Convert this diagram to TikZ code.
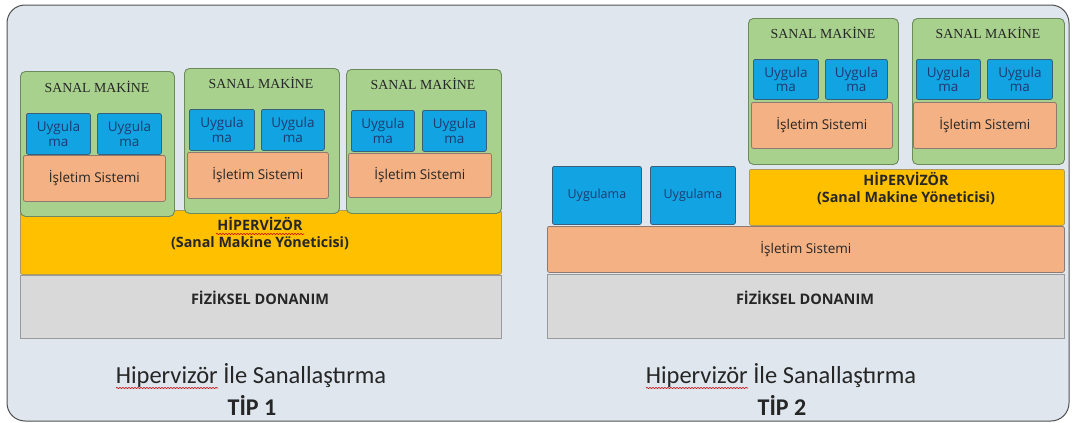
\documentclass[tikz,border=0pt]{standalone}
\usepackage{fontspec}
\setmainfont{Open Sans}
\newfontfamily\serifF{Liberation Serif}
\newfontfamily\calF{Carlito}
\usetikzlibrary{decorations.pathmorphing}
\definecolor{bgc}{HTML}{DFE6EE}
\definecolor{framec}{HTML}{505050}
\definecolor{vmfill}{HTML}{A9D18E}
\definecolor{vmdraw}{HTML}{6C8A5C}
\definecolor{appfill}{HTML}{12A3E3}
\definecolor{appdraw}{HTML}{3A5F78}
\definecolor{apptext}{HTML}{1D3B6E}
\definecolor{osfill}{HTML}{F4B183}
\definecolor{osdraw}{HTML}{8E7A70}
\definecolor{hvfill}{HTML}{FFC000}
\definecolor{hvdraw}{HTML}{B09A5A}
\definecolor{hwfill}{HTML}{D9D9D9}
\definecolor{hwdraw}{HTML}{9A9A9A}
\definecolor{txt}{HTML}{262626}
\newcommand\blk[7]{\node[#2,anchor=north west,inner sep=0pt,minimum width={(#5-#3)*1pt},minimum height={(#6-#4)*1pt}] (#1) at (#3,#4) {#7};}
\tikzset{
  vmbox/.style={draw=vmdraw,fill=vmfill,line width=0.9pt,rounded corners=5pt},
  appbox/.style={draw=appdraw,fill=appfill,line width=0.8pt,rounded corners=2pt,align=center,text=apptext,font=\fontsize{13.5}{14.5}\selectfont},
  appwide/.style={appbox,font=\fontsize{12.5}{14}\selectfont},
  osbox/.style={draw=osdraw,fill=osfill,line width=0.8pt,rounded corners=2pt,text=txt,font=\fontsize{13.5}{15}\selectfont},
  hvbox/.style={draw=hvdraw,fill=hvfill,line width=0.8pt,rounded corners=2pt},
  hwbox/.style={draw=hwdraw,fill=hwfill,line width=0.8pt},
  vmtitle/.style={font=\serifF\fontsize{13.8}{15}\selectfont,text=txt,inner sep=0pt},
  hvtext/.style={font=\bfseries\fontsize{14.3}{17}\selectfont,text=txt,align=center,inner sep=0pt},
  hwtext/.style={font=\bfseries\fontsize{14.5}{16}\selectfont,text=txt,inner sep=0pt},
  captext/.style={font=\calF\fontsize{24.5}{26}\selectfont,text=txt,inner sep=0pt},
  tiptext/.style={font=\calF\bfseries\fontsize{24}{26}\selectfont,text=txt,inner sep=0pt},
  squig/.style={red!80!black,line width=0.6pt,decorate,decoration={snake,amplitude=0.6pt,segment length=3pt}}
}
\begin{document}
\begin{tikzpicture}[x=1pt,y=-1pt]
\useasboundingbox (0,0) rectangle (1074,423);
\draw[framec,line width=1pt,fill=bgc,rounded corners=18pt] (7,5) rectangle (1069,421);
% ---------------- TIP 1 ----------------
\blk{hw1}{hwbox}{20}{275}{501}{338}{}
\node[hwtext] (hw1t) at (260,298) {FİZİKSEL DONANIM};
\blk{hv1}{hvbox}{20}{210}{501}{274}{}
\node[hvtext] (hv1t) at (260,234) {HİPERVİZÖR\\(Sanal Makine Yöneticisi)};
% VM 1
\blk{vm1}{vmbox}{20}{71}{174}{216}{}
\node[vmtitle] (vm1t) at (97,87) {SANAL MAKİNE};
\blk{vm1a}{appbox}{26}{113}{90}{154}{Uygula\\ma}
\blk{vm1b}{appbox}{97}{113}{161}{154}{Uygula\\ma}
\blk{vm1o}{osbox}{23}{155}{165}{201}{İşletim Sistemi}
% VM 2
\blk{vm2}{vmbox}{184}{68}{339}{213}{}
\node[vmtitle] (vm2t) at (261,83) {SANAL MAKİNE};
\blk{vm2a}{appbox}{189}{109}{254}{150}{Uygula\\ma}
\blk{vm2b}{appbox}{261}{109}{324}{150}{Uygula\\ma}
\blk{vm2o}{osbox}{187}{152}{328}{198}{İşletim Sistemi}
% VM 3
\blk{vm3}{vmbox}{346}{69}{501}{213}{}
\node[vmtitle] (vm3t) at (423,84) {SANAL MAKİNE};
\blk{vm3a}{appbox}{351}{110}{414}{151}{Uygula\\ma}
\blk{vm3b}{appbox}{422}{110}{486}{151}{Uygula\\ma}
\blk{vm3o}{osbox}{348}{153}{491}{197}{İşletim Sistemi}
% caption 1
\node[captext] (cap1) at (251,376) {Hipervizör İle Sanallaştırma};
\node[tiptext] (tip1) at (252,405) {TİP 1};
\draw[squig] (116,388) -- (218,388);
\draw[squig] (216,234) -- (304,234);
% ---------------- TIP 2 ----------------
\blk{hw2}{hwbox}{547}{274}{1064}{338}{}
\node[hwtext] (hw2t) at (805,298) {FİZİKSEL DONANIM};
\blk{os2}{osbox}{547}{226}{1064}{272}{İşletim Sistemi}
\blk{ua}{appwide}{552}{166}{641}{224}{Uygulama}
\blk{ub}{appwide}{650}{166}{735}{224}{Uygulama}
\blk{hv2}{hvbox}{749}{169}{1064}{225}{}
\node[hvtext] (hv2t) at (906,189) {HİPERVİZÖR\\(Sanal Makine Yöneticisi)};
% VM A
\blk{vmA}{vmbox}{748}{18}{898}{164}{}
\node[vmtitle] (vmAt) at (823,33) {SANAL MAKİNE};
\blk{vmAa}{appbox}{753}{59}{818}{99}{Uygula\\ma}
\blk{vmAb}{appbox}{825}{59}{887}{99}{Uygula\\ma}
\blk{vmAo}{osbox}{751}{102}{892}{148}{İşletim Sistemi}
% VM B
\blk{vmB}{vmbox}{912}{18}{1064}{164}{}
\node[vmtitle] (vmBt) at (988,33) {SANAL MAKİNE};
\blk{vmBa}{appbox}{916}{59}{980}{99}{Uygula\\ma}
\blk{vmBb}{appbox}{987}{59}{1052}{99}{Uygula\\ma}
\blk{vmBo}{osbox}{913}{102}{1056}{148}{İşletim Sistemi}
% caption 2
\node[captext] (cap2) at (781,376) {Hipervizör İle Sanallaştırma};
\node[tiptext] (tip2) at (782,405) {TİP 2};
\draw[squig] (646,388) -- (748,388);
\end{tikzpicture}
\end{document}
